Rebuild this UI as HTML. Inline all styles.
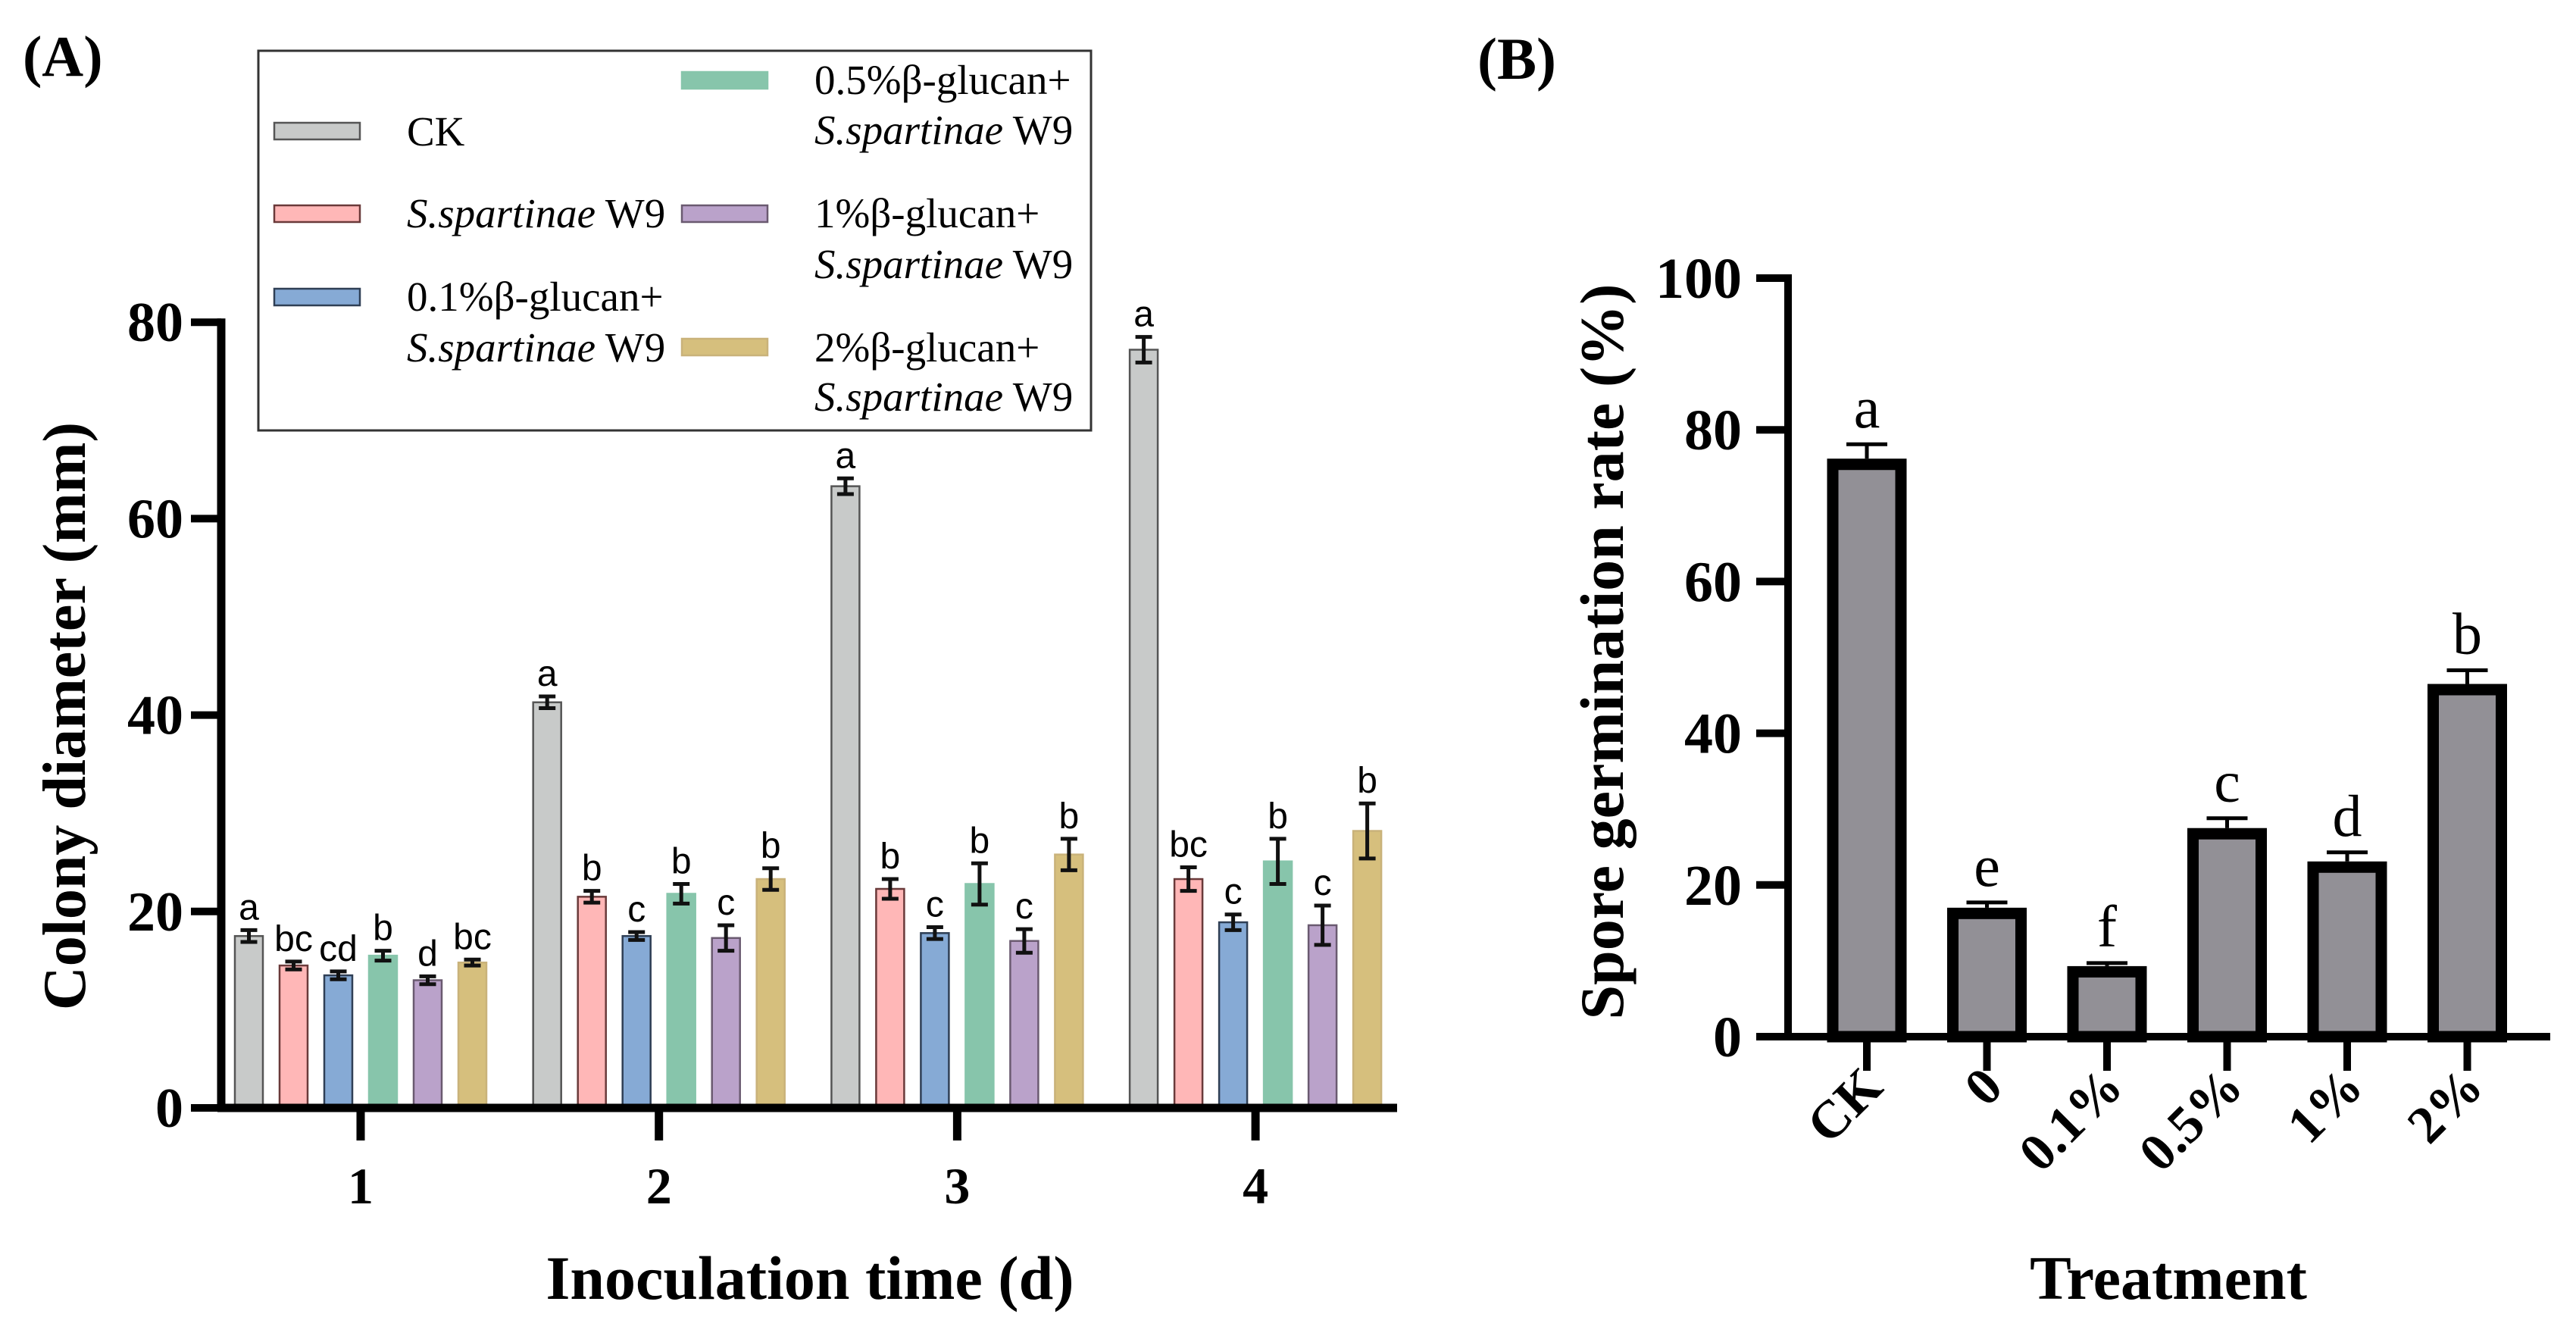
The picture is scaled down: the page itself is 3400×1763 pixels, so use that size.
<!DOCTYPE html>
<html><head><meta charset="utf-8"><style>
html,body{margin:0;padding:0;background:#fff;}
svg{display:block;}
text{font-family:"Liberation Serif",serif;}
</style></head><body>
<svg id="s" width="3400" height="1763" viewBox="0 0 3400 1763" xmlns="http://www.w3.org/2000/svg">
<g id="A"></g>
<g id="B"></g>
</svg>
<script>
// ---- Panel A data ----
const daysA = ["1","2","3","4"];
const seriesNamesA = ["CK","S.spartinae W9","0.1%β-glucan+S.spartinae W9","0.5%β-glucan+S.spartinae W9","1%β-glucan+S.spartinae W9","2%β-glucan+S.spartinae W9"];
const ckA   = [17.5, 41.3, 63.3, 77.2];
const w9A   = [14.5, 21.5, 22.3, 23.3];
const g01A  = [13.5, 17.5, 17.8, 18.9];
const g05A  = [15.5, 21.8, 22.8, 25.1];
const g1A   = [13.0, 17.3, 17.0, 18.6];
const g2A   = [14.8, 23.3, 25.8, 28.2];
const ckErrA  = [0.6, 0.6, 0.8, 1.3];
const w9ErrA  = [0.4, 0.6, 1.0, 1.2];
const g01ErrA = [0.4, 0.4, 0.6, 0.8];
const g05ErrA = [0.5, 1.0, 2.1, 2.3];
const g1ErrA  = [0.4, 1.3, 1.2, 2.0];
const g2ErrA  = [0.3, 1.1, 1.6, 2.8];
const ckLetA  = ["a","a","a","a"];
const w9LetA  = ["bc","b","b","bc"];
const g01LetA = ["cd","c","c","c"];
const g05LetA = ["b","b","b","b"];
const g1LetA  = ["d","c","c","c"];
const g2LetA  = ["bc","b","b","b"];
const yTicksA = [0,20,40,60,80];
// ---- Panel B data ----
const catsB = ["CK","0","0.1%","0.5%","1%","2%"];
const valsB = [76.2, 17.0, 9.3, 27.5, 23.1, 46.5];
const errsB = [1.9, 0.7, 0.4, 1.3, 1.2, 1.8];
const letB  = ["a","e","f","c","d","b"];
const yTicksB = [0,20,40,60,80,100];

const NS="http://www.w3.org/2000/svg";
function mk(parent,tag,attrs,txt){const e=document.createElementNS(NS,tag);for(const k in attrs)e.setAttribute(k,attrs[k]);if(txt!==undefined)e.textContent=txt;parent.appendChild(e);return e;}

// ===== Panel A =====
const A=document.getElementById('A');
const ax0=292, ay0=1462, aPer=12.96;
const yA=v=>ay0-v*aPer;
const groupX=i=>476+i*393.7;
const barW=37, barStep=59;
const fills=["#c8cac9","#ffb7b7","#86aad5","#87c5ab","#baa2ca","#d6bf7d"];
const strokes=["#555","#6a3a3a","#2f3f55","#87c5ab","#6a5a70","#c9b27a"];
const valsA=[ckA,w9A,g01A,g05A,g1A,g2A];
const errsA=[ckErrA,w9ErrA,g01ErrA,g05ErrA,g1ErrA,g2ErrA];
const letsA=[ckLetA,w9LetA,g01LetA,g05LetA,g1LetA,g2LetA];

let t=mk(A,'text',{x:30,y:100,'font-size':76,'font-weight':'bold'},'(A)');



for(let i=0;i<daysA.length;i++){
  for(let s=0;s<6;s++){
    const cx=groupX(i)+(s-2.5)*barStep, v=valsA[s][i], e=errsA[s][i];
    const r=mk(A,'rect',{x:cx-barW/2,y:yA(v),width:barW,height:ay0-yA(v),fill:fills[s],stroke:strokes[s],'stroke-width':2.5});
    
    
    const eb=mk(A,'path',{d:`M${cx} ${yA(v-e)}V${yA(v+e)}M${cx-11} ${yA(v+e)}H${cx+11}M${cx-11} ${yA(v-e)}H${cx+11}`,stroke:'#111','stroke-width':5,fill:'none'});
    
    
    const lt=mk(A,'text',{x:cx,y:yA(v+e)-14,'font-size':48,'text-anchor':'middle',style:'font-family:"Liberation Sans",sans-serif'},letsA[s][i]);
    
    
  }
  const tk=mk(A,'line',{x1:groupX(i),x2:groupX(i),y1:ay0,y2:1505,stroke:'#000','stroke-width':11});
  
  
  const tl=mk(A,'text',{x:groupX(i),y:1588,'font-size':68,'font-weight':'bold','text-anchor':'middle'},daysA[i]);
  
  
}
let ax=mk(A,'path',{d:`M${ax0} ${yA(80)-5}V${ay0}M${ax0-5} ${ay0}H1844`,stroke:'#000','stroke-width':11,fill:'none'});


yTicksA.forEach(v=>{
  const l=mk(A,'line',{x1:ax0-40,x2:ax0,y1:yA(v),y2:yA(v),stroke:'#000','stroke-width':10});
  
  
  const tt=mk(A,'text',{x:ax0-50,y:yA(v)+25,'font-size':74,'font-weight':'bold','text-anchor':'end'},String(v));
  
  
});
t=mk(A,'text',{x:0,y:0,'font-size':80,'font-weight':'bold','text-anchor':'middle',transform:'translate(112 945) rotate(-90)'},'Colony diameter (mm)');


t=mk(A,'text',{x:1069,y:1714,'font-size':82,'font-weight':'bold','text-anchor':'middle'},'Inoculation time (d)');



// legend
const lg=mk(A,'g',{});


mk(lg,'rect',{x:341,y:67,width:1099,height:501,fill:'#fff',stroke:'#333','stroke-width':3});
const legPos=[[362,173,537,[192]],[362,282,537,[300]],[362,392,537,[410,477]],[900,106,1075,[124,190]],[900,282,1075,[300,367]],[900,458,1075,[477,542]]];
const legLines=[["CK"],["*"],["0.1%β-glucan+","*"],["0.5%β-glucan+","*"],["1%β-glucan+","*"],["2%β-glucan+","*"]];
legPos.forEach((p,s)=>{
  const sw=mk(lg,'rect',{x:p[0],y:p[1]-11,width:113,height:22,fill:fills[s],stroke:strokes[s],'stroke-width':2.5});
  
  
  legLines[s].forEach((ln,k)=>{
    const tx=mk(lg,'text',{x:p[2],y:p[3][k],'font-size':55});
    
    
    if(ln==="*"){mk(tx,'tspan',{'font-style':'italic'},'S.spartinae');mk(tx,'tspan',{},' W9');}
    else tx.textContent=ln;
  });
});

// ===== Panel B =====
const B=document.getElementById('B');
const bx0=2360, by0=1368, bPer=10.01;
const yB=v=>by0-v*bPer;
const xB=i=>2464+i*158.5;
t=mk(B,'text',{x:1950,y:104,'font-size':78,'font-weight':'bold'},'(B)');


catsB.forEach((c,i)=>{
  const cx=xB(i), v=valsB[i], e=errsB[i];
  const eb=mk(B,'path',{d:`M${cx} ${yB(v)}V${yB(v+e)}M${cx-27} ${yB(v+e)}H${cx+27}`,stroke:'#000','stroke-width':5,fill:'none'});
  
  
  const r=mk(B,'rect',{x:cx-45,y:yB(v)+7.5,width:90,height:by0-yB(v)-7.5,fill:'#929096',stroke:'#000','stroke-width':15});
  
  
  const lt=mk(B,'text',{x:cx,y:yB(v+e)-22,'font-size':78,'text-anchor':'middle'},letB[i]);
  
  
  const tk=mk(B,'line',{x1:cx,x2:cx,y1:by0,y2:1413,stroke:'#000','stroke-width':10});
  
  
  const tl=mk(B,'text',{x:0,y:0,'font-size':70,'font-weight':'bold','text-anchor':'end',transform:`translate(${cx+24} ${1438}) rotate(-45)`},c);
  
  
});
ax=mk(B,'path',{d:`M${bx0} ${yB(100)-5}V${by0}M${bx0-5} ${by0}H3366`,stroke:'#000','stroke-width':10,fill:'none'});


yTicksB.forEach(v=>{
  const l=mk(B,'line',{x1:bx0-42,x2:bx0,y1:yB(v),y2:yB(v),stroke:'#000','stroke-width':10});
  
  
  const tt=mk(B,'text',{x:2299,y:yB(v)+26,'font-size':76,'font-weight':'bold','text-anchor':'end'},String(v));
  
  
});
t=mk(B,'text',{x:0,y:0,'font-size':82,'font-weight':'bold','text-anchor':'middle',transform:'translate(2142 860) rotate(-90)'},'Spore germination rate (%)');


t=mk(B,'text',{x:2862,y:1714,'font-size':82,'font-weight':'bold','text-anchor':'middle'},'Treatment');


</script>
</body></html>
